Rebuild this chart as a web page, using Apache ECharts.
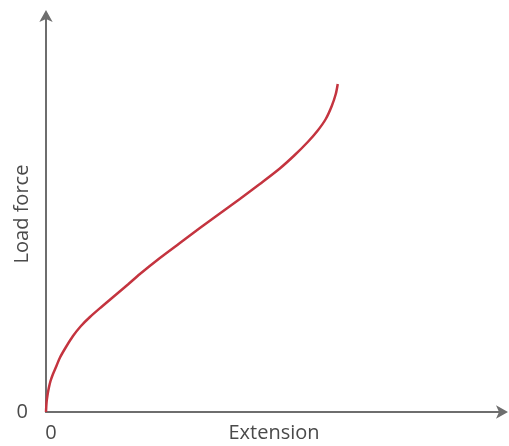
<!DOCTYPE html>
<html>
<head>
<meta charset="utf-8">
<script src="https://cdn.jsdelivr.net/npm/echarts@6/dist/echarts.min.js"></script>
<style>
html,body{margin:0;padding:0;background:#fff;}
#chart{width:509px;height:446px;}
</style>
</head>
<body>
<div id="chart"></div>
<script>
const extension = [0, 0.13, 0.33, 0.61, 0.98, 1.52, 2.17, 3.04, 4.34, 5.86, 7.59, 9.54, 12.15, 14.97, 17.79, 20.39, 24.73, 29.07, 33.41, 37.74, 42.08, 46.42, 50.76, 54.01, 56.83, 59.00, 60.74, 62.04, 62.91, 63.34];
const loadForce = [0, 2.5, 4.25, 6, 7.75, 9.5, 11.25, 13.63, 16.25, 19, 21.5, 23.75, 26.38, 29.13, 31.88, 34.5, 38.5, 42.25, 46, 49.63, 53.25, 57, 60.88, 64.25, 67.5, 70.38, 73.25, 76.5, 79.5, 82];
const xTickLabels = ['0'];
const yTickLabels = ['0'];

const chart = echarts.init(document.getElementById('chart'), null, {renderer: 'canvas'});
const font = '"Open Sans", Lato, sans-serif';
chart.setOption({
  animation: false,
  backgroundColor: '#fff',
  grid: {left: 46, right: 7, top: 16, bottom: 34, containLabel: false, outerBoundsMode: 'none'},
  xAxis: {
    type: 'value', min: 0, max: 99, interval: 99,
    name: 'Extension', nameLocation: 'middle', nameGap: 11, nameMoveOverlap: false,
    nameTextStyle: {fontFamily: font, fontSize: 20, color: '#4a4a4a'},
    axisLine: {show: true, symbol: ['none', 'arrow'], symbolSize: [10, 12], symbolOffset: [0, 6],
      lineStyle: {color: '#6e6e6e', width: 2}},
    axisTick: {show: false},
    splitLine: {show: false},
    axisLabel: {margin: 11, fontFamily: font, fontSize: 20, color: '#4a4a4a', padding: [0, 0, 0, 10],
      formatter: v => v === 0 ? xTickLabels[0] : ''}
  },
  yAxis: {
    type: 'value', min: 0, max: 99, interval: 99,
    name: 'Load force', nameLocation: 'middle', nameGap: 14, nameMoveOverlap: false,
    nameTextStyle: {fontFamily: font, fontSize: 20, color: '#4a4a4a'},
    axisLine: {show: true, symbol: ['none', 'arrow'], symbolSize: [10, 12], symbolOffset: [0, 6],
      lineStyle: {color: '#6e6e6e', width: 2}},
    axisTick: {show: false},
    splitLine: {show: false},
    axisLabel: {margin: 18, fontFamily: font, fontSize: 20, color: '#4a4a4a', padding: [0, 0, 4, 0],
      formatter: v => v === 0 ? yTickLabels[0] : ''}
  },
  series: [{
    type: 'line',
    data: extension.map((x, i) => [x, loadForce[i]]),
    smooth: 0.3,
    showSymbol: false,
    lineStyle: {color: '#c4343f', width: 2.5}
  }]
});
</script>
</body>
</html>
